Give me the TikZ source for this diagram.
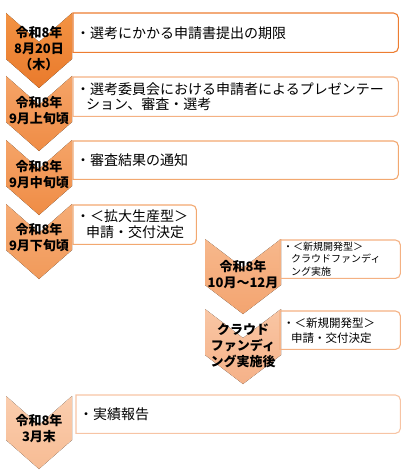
\documentclass[tikz,border=0pt]{standalone}
\usepackage{fontspec}
\setmainfont{Noto Sans CJK JP}
\usetikzlibrary{positioning}
\definecolor{chevA}{HTML}{F39343}
\definecolor{chevAd}{HTML}{E97A2C}
\definecolor{chevB}{HTML}{F5A468}
\definecolor{chevBd}{HTML}{EF8C45}
\definecolor{chevC}{HTML}{F6AC76}
\definecolor{chevCd}{HTML}{F19A5A}
\definecolor{chevD}{HTML}{F7B88C}
\definecolor{chevDd}{HTML}{F3A470}
\definecolor{chevE}{HTML}{F9C6A4}
\definecolor{chevEd}{HTML}{F5B188}
\definecolor{chevF}{HTML}{FACDAE}
\definecolor{chevFd}{HTML}{F7BC94}
\definecolor{lineA}{HTML}{ED7D31}
\definecolor{lineB}{HTML}{F4B183}
\definecolor{lineC}{HTML}{F2A870}
\definecolor{lineD}{HTML}{F7C4A4}

% chevron: left x, top y, width, height, top colour, bottom colour
\newcommand\chevshape[6]{%
  \fill[top color=#5, bottom color=#6, shading angle=0]
    (#1,#2) -- ({#1+#3/2},{#2+29}) -- ({#1+#3},#2) -- ({#1+#3},{#2+#4-29})
    -- ({#1+#3/2},{#2+#4}) -- (#1,{#2+#4-29}) -- cycle;}
% frame of a task box, rounded on the right side only
\newcommand\taskframe[2]{%
  \draw[line width=1.1pt, draw=#2] (#1.south west) -- (#1.north west)
    [rounded corners=5pt] -- (#1.north east) -- (#1.south east)
    [sharp corners] -- cycle;}

\begin{document}
\begin{tikzpicture}[
  x=1pt, y=-1pt,
  datelab/.style={font=\bfseries\fontsize{13}{16}\selectfont, align=center, inner sep=0pt},
  task/.style={rectangle, anchor=north west, inner xsep=3pt, inner ysep=0pt,
    align=left, font=\fontsize{14}{15}\selectfont},
]
\useasboundingbox (0,0) rectangle (408,476);

% Chevrons
\chevshape{6}{13}{66}{75}{chevA}{chevAd}
\chevshape{6}{76}{66}{75}{chevB}{chevBd}
\chevshape{6}{140}{66}{75}{chevB}{chevBd}
\chevshape{6}{204}{66}{75}{chevC}{chevCd}
\chevshape{205}{239}{76}{75}{chevD}{chevDd}
\chevshape{205}{309}{76}{75}{chevE}{chevEd}
\chevshape{6}{396}{66}{73}{chevF}{chevFd}

% Dates
\node[datelab] (d1) at (39,49) {令和8年\\8月20日\\（木）};
\node[datelab] (d2) at (39,111) {令和8年\\9月上旬頃};
\node[datelab] (d3) at (39,175) {令和8年\\9月中旬頃};
\node[datelab] (d4) at (39,238) {令和8年\\9月下旬頃};
\node[datelab] (d5) at (243,275) {令和8年\\10月～12月};
\node[datelab] (d6) at (243,346) {クラウド\\ファンディ\\ング実施後};
\node[datelab] (d7) at (39,429) {令和8年\\3月末};

% Tasks
\node[task, text width=319, minimum height=39] (t1) at (73,13) {・選考にかかる申請書提出の期限};
\node[task, text width=319, minimum height=39] (t2) at (73,77)
  {・選考委員会における申請者によるプレゼンテー\\\hspace*{10pt}ション、審査・選考};
\node[task, text width=319, minimum height=38] (t3) at (73,141) {・審査結果の通知};
\node[task, text width=117, minimum height=39, font=\fontsize{14}{16}\selectfont] (t4) at (73,205)
  {・＜拡大生産型＞\\\hspace*{10pt}申請・交付決定};
\node[task, text width=114, minimum height=38, font=\fontsize{10}{12.5}\selectfont] (t5) at (280,240)
  {・＜新規開発型＞\\\hspace*{8pt}クラウドファンディ\\\hspace*{8pt}ング実施};
\node[task, text width=114, minimum height=38, font=\fontsize{11.5}{15}\selectfont] (t6) at (280,311)
  {・＜新規開発型＞\\\hspace*{8pt}申請・交付決定};
\node[task, text width=318, minimum height=38] (t7) at (76,395) {・実績報告};

\taskframe{t1}{lineA}
\taskframe{t2}{lineB}
\taskframe{t3}{lineC}
\taskframe{t4}{lineC}
\taskframe{t5}{lineB}
\taskframe{t6}{lineB}
\taskframe{t7}{lineD}

\end{tikzpicture}
\end{document}
